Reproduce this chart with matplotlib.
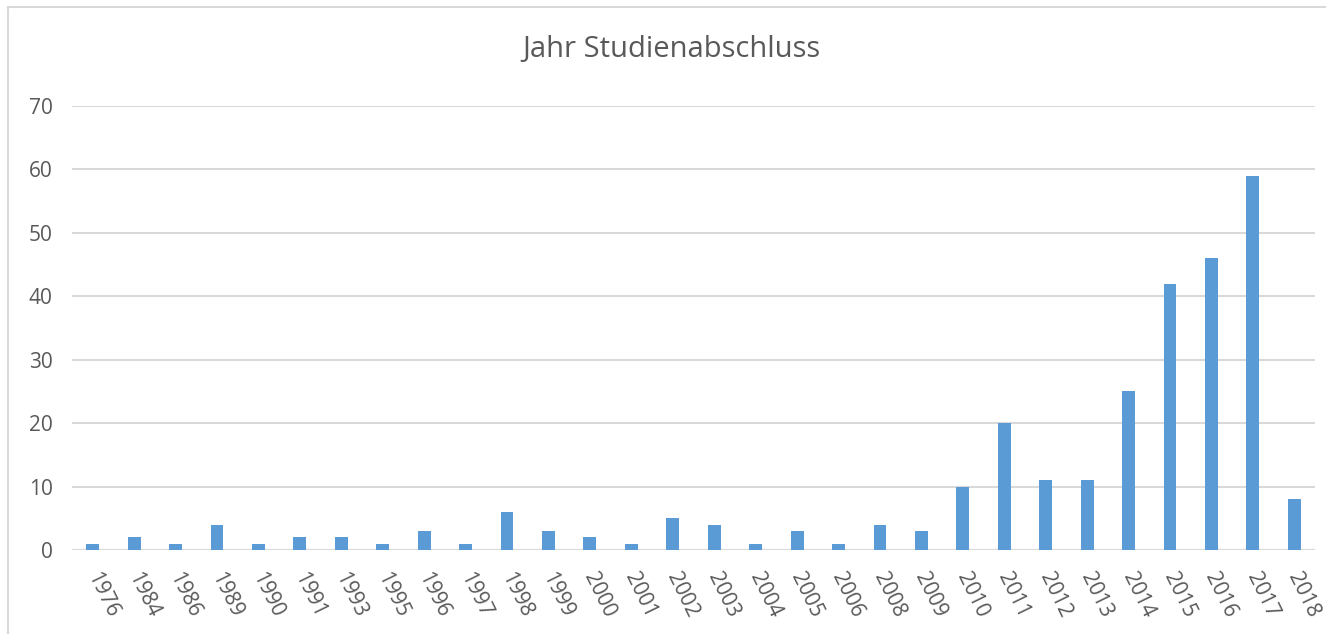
import matplotlib.pyplot as plt
import matplotlib.transforms as mtransforms
import numpy as np
from matplotlib.patches import Rectangle

years = ["1976", "1984", "1986", "1989", "1990", "1991", "1993", "1995", "1996", "1997",
         "1998", "1999", "2000", "2001", "2002", "2003", "2004", "2005", "2006", "2008",
         "2009", "2010", "2011", "2012", "2013", "2014", "2015", "2016", "2017", "2018"]
counts = [1, 2, 1, 4, 1, 2, 2, 1, 3, 1,
          6, 3, 2, 1, 5, 4, 1, 3, 1, 4,
          3, 10, 20, 11, 11, 25, 42, 46, 59, 8]
y_ticks = [0, 10, 20, 30, 40, 50, 60, 70]

plt.rcParams['font.family'] = ['Open Sans', 'DejaVu Sans']
txt = '#595959'

fig = plt.figure(figsize=(13.26, 6.34), dpi=100)
ax = fig.add_axes([72 / 1326, 1 - 550 / 634, (1315 - 72) / 1326, (550 - 106) / 634])

x = np.arange(len(years))
ax.bar(x, counts, width=0.31, color='#5b9bd5', zorder=3)

ax.set_xlim(-0.5, len(years) - 0.5)
ax.set_ylim(0, 70)
ax.set_yticks(y_ticks)
ax.set_yticklabels([str(v) for v in y_ticks], fontsize=15, color=txt)
ax.grid(axis='y', color='#d9d9d9', linewidth=1.5, zorder=0)
ax.set_xticks(x)
ax.set_xticklabels(years, rotation=-64, ha='left', va='top', rotation_mode='anchor',
                   fontsize=15, color=txt)
ax.tick_params(axis='both', length=0)
ax.tick_params(axis='y', pad=14)
ax.tick_params(axis='x', pad=14)
shift = mtransforms.ScaledTranslation(6 / 72, 0, fig.dpi_scale_trans)
for lab in ax.get_xticklabels():
    lab.set_transform(lab.get_transform() + shift)
for s in ax.spines.values():
    s.set_visible(False)
ax.axhline(0, color='#d9d9d9', linewidth=1.5, zorder=2)

fig.text(671 / 1326, 1 - 50 / 634, "Jahr Studienabschluss",
         ha='center', va='center', fontsize=21, color=txt)

# outer chart frame
fig.patches.append(Rectangle((8 / 1326, -0.01), 1.02, 1 - 7 / 634 + 0.01,
                             transform=fig.transFigure, fill=False,
                             edgecolor='#d9d9d9', linewidth=1.5))

fig.savefig('out.png', dpi=100)
